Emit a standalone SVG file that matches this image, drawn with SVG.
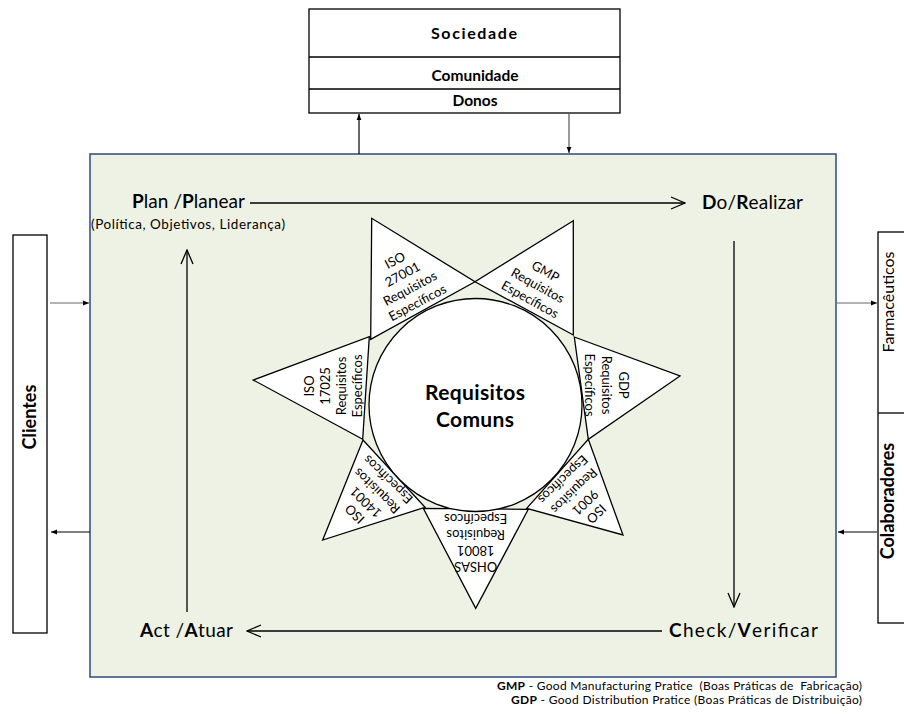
<svg xmlns="http://www.w3.org/2000/svg" width="904" height="724" viewBox="0 0 904 724">
  <style>
    text { font-family: Lato, "Liberation Sans", sans-serif; fill: #000; }
    .box { fill: #fff; stroke: #000; stroke-width: 1.3; }
    .frame { fill: #EEF2E5; stroke: #2F4A7C; stroke-width: 1.5; }
    .pt { fill: #fff; stroke: #000; stroke-width: 1.3; stroke-linejoin: miter; }
    .ptxt { font-size: 13px; text-anchor: middle; dominant-baseline: central; }
    .big { font-size: 19px; }
    .small { stroke-width: 1.2; fill: none; }
    .cycle { stroke: #000; stroke-width: 1.3; fill: none; }
    .b { font-weight: bold; }
    .pre { white-space: pre; }
  </style>
  <defs>
    <marker id="tipK" viewBox="0 0 10 10" refX="10" refY="5" markerWidth="6" markerHeight="6" orient="auto" markerUnits="userSpaceOnUse">
      <path d="M0,1 L10,5 L0,9 Z" fill="#000"/>
    </marker>
    <marker id="open" viewBox="0 0 16 14" refX="15" refY="7" markerWidth="16" markerHeight="14" orient="auto" markerUnits="userSpaceOnUse">
      <path d="M1,1 L15,7 L1,13" fill="none" stroke="#000" stroke-width="1.3"/>
    </marker>
  </defs>

  <!-- organisation frame -->
  <g id="organizacao">
    <rect class="frame" x="90" y="154" width="746" height="523"/>
  </g>

  <!-- stakeholders on top -->
  <g id="partes-topo">
    <rect class="box" x="309" y="9" width="311" height="104"/>
    <line x1="309" y1="57" x2="620" y2="57" stroke="#000" stroke-width="1.3"/>
    <line x1="309" y1="89" x2="620" y2="89" stroke="#000" stroke-width="1.3"/>
    <text class="b" x="431" y="39" font-size="16" textLength="86" lengthAdjust="spacing">Sociedade</text>
    <text class="b" x="475" y="81" font-size="15.5" text-anchor="middle">Comunidade</text>
    <text class="b" x="475" y="106" font-size="15.5" text-anchor="middle">Donos</text>
  </g>

  <g id="clientes">
    <rect class="box" x="13" y="235" width="34" height="398"/>
    <text class="b" transform="translate(36,417) rotate(-90)" font-size="18" text-anchor="middle">Clientes</text>
  </g>

  <g id="farmaceuticos-colaboradores">
    <rect class="box" x="878" y="232" width="40" height="391"/>
    <line x1="878" y1="413" x2="904" y2="413" stroke="#000" stroke-width="1.3"/>
    <text transform="translate(894,302) rotate(-90)" font-size="16" text-anchor="middle">Farmacêuticos</text>
    <text class="b" transform="translate(894,501) rotate(-90)" font-size="18" text-anchor="middle">Colaboradores</text>
  </g>

  <!-- connectors -->
  <g id="conectores">
    <line class="small" x1="359" y1="154" x2="359" y2="114" stroke="#000" marker-end="url(#tipK)"/>
    <line class="small" x1="569" y1="113" x2="569" y2="153" stroke="#555" marker-end="url(#tipK)"/>
    <line class="small" x1="50" y1="303" x2="89" y2="303" stroke="#666" marker-end="url(#tipK)"/>
    <line class="small" x1="90" y1="532" x2="51" y2="532" stroke="#000" marker-end="url(#tipK)"/>
    <line class="small" x1="837" y1="303" x2="877" y2="303" stroke="#666" marker-end="url(#tipK)"/>
    <line class="small" x1="877" y1="532" x2="838" y2="532" stroke="#000" marker-end="url(#tipK)"/>

    <line class="cycle" x1="250" y1="203" x2="685" y2="203" marker-end="url(#open)"/>
    <line class="cycle" x1="734" y1="241" x2="734" y2="607" marker-end="url(#open)"/>
    <line class="cycle" x1="662" y1="631" x2="247" y2="631" marker-end="url(#open)"/>
    <line class="cycle" x1="187" y1="612" x2="187" y2="250" marker-end="url(#open)"/>
  </g>

  <!-- PDCA labels -->
  <g id="plan">
    <text class="big" x="132" y="208" textLength="113" lengthAdjust="spacing"><tspan class="b">P</tspan>lan /<tspan class="b">P</tspan>lanear</text>
    <text x="91" y="229" font-size="13.5" textLength="194" lengthAdjust="spacing">(Política, Objetivos, Liderança)</text>
  </g>
  <g id="do">
    <text class="big" x="702" y="209" textLength="101" lengthAdjust="spacing"><tspan class="b">D</tspan>o/<tspan class="b">R</tspan>ealizar</text>
  </g>
  <g id="check">
    <text class="big" x="669" y="637" textLength="149" lengthAdjust="spacing"><tspan class="b">C</tspan>heck/<tspan class="b">V</tspan>erificar</text>
  </g>
  <g id="act">
    <text class="big" x="140" y="637" textLength="93" lengthAdjust="spacing"><tspan class="b">A</tspan>ct /<tspan class="b">A</tspan>tuar</text>
  </g>

  <!-- star of specific requirements around the common core -->
  <g id="iso27001">
    <polygon class="pt" points="371.7,218.3 370.7,339.3 475,281.7"/>
    <g transform="translate(406,281) rotate(-28)">
      <text class="ptxt" y="-24">ISO</text>
      <text class="ptxt" y="-8">27001</text>
      <text class="ptxt" y="8">Requisitos</text>
      <text class="ptxt" y="24">Específicos</text>
    </g>
  </g>
  <g id="gmp">
    <polygon class="pt" points="573.3,220.7 475,281.7 573.3,335"/>
    <g transform="translate(538,285) rotate(29)">
      <text class="ptxt" y="-16">GMP</text>
      <text class="ptxt" y="0">Requisitos</text>
      <text class="ptxt" y="16">Específicos</text>
    </g>
  </g>
  <g id="gdp">
    <polygon class="pt" points="574.3,337 680,376 588.3,439.3"/>
    <g transform="translate(607,385) rotate(90)">
      <text class="ptxt" y="-17">GDP</text>
      <text class="ptxt" y="0">Requisitos</text>
      <text class="ptxt" y="17">Específicos</text>
    </g>
  </g>
  <g id="iso9001">
    <polygon class="pt" points="588.3,439.3 623,535 526.7,508.3"/>
    <g transform="translate(580,497) rotate(136)">
      <text class="ptxt" y="-24">ISO</text>
      <text class="ptxt" y="-8">9001</text>
      <text class="ptxt" y="8">Requisitos</text>
      <text class="ptxt" y="24">Específicos</text>
    </g>
  </g>
  <g id="ohsas18001">
    <polygon class="pt" points="528.3,509.3 475.7,608.3 423.3,508.3"/>
    <g transform="translate(475.7,542.5) rotate(180)">
      <text class="ptxt" y="-24">OHSAS</text>
      <text class="ptxt" y="-8">18001</text>
      <text class="ptxt" y="8">Requisitos</text>
      <text class="ptxt" y="24">Específicos</text>
    </g>
  </g>
  <g id="iso14001">
    <polygon class="pt" points="425,507.3 322.7,540 363,440"/>
    <g transform="translate(371,497) rotate(-136)">
      <text class="ptxt" y="-24">ISO</text>
      <text class="ptxt" y="-8">14001</text>
      <text class="ptxt" y="8">Requisitos</text>
      <text class="ptxt" y="24">Específicos</text>
    </g>
  </g>
  <g id="iso17025">
    <polygon class="pt" points="362.7,439.3 253.3,380 369.3,336.7"/>
    <g transform="translate(333,386) rotate(-90)">
      <text class="ptxt" y="-24">ISO</text>
      <text class="ptxt" y="-8">17025</text>
      <text class="ptxt" y="8">Requisitos</text>
      <text class="ptxt" y="24">Específicos</text>
    </g>
  </g>

  <g id="requisitos-comuns">
    <circle cx="475.5" cy="405" r="106.5" fill="#fff" stroke="#000" stroke-width="1.3"/>
    <text class="b" x="425" y="400" font-size="21" textLength="100" lengthAdjust="spacing">Requisitos</text>
    <text class="b" x="436" y="427" font-size="21" textLength="78" lengthAdjust="spacing">Comuns</text>
  </g>

  <!-- abbreviations -->
  <g id="legenda">
    <text class="pre" x="497" y="690" font-size="12" textLength="365" lengthAdjust="spacing"><tspan class="b">GMP</tspan> - Good Manufacturing Pratice  (Boas Práticas de  Fabricação)</text>
    <text class="pre" x="511" y="704" font-size="12" textLength="351" lengthAdjust="spacing"><tspan class="b">GDP</tspan> - Good Distribution Pratice (Boas Práticas de Distribuição)</text>
  </g>
</svg>
